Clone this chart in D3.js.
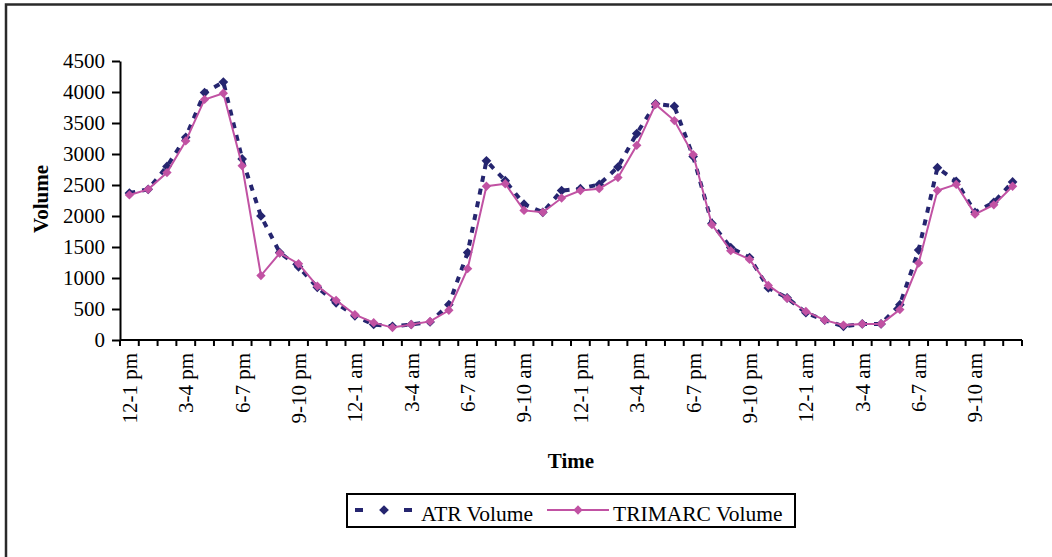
<!DOCTYPE html>
<html>
<head>
<meta charset="utf-8">
<script src="https://cdn.jsdelivr.net/npm/d3@7"></script>
<style>
  body { margin: 0; background: #fff; }
  svg { display: block; font-family: "Liberation Serif", "Times New Roman", serif; }
</style>
</head>
<body>
<script>
// hourly slots, two days starting at noon
const hours = [
  '12-1 pm', '1-2 pm', '2-3 pm', '3-4 pm', '4-5 pm', '5-6 pm',
  '6-7 pm', '7-8 pm', '8-9 pm', '9-10 pm', '10-11 pm', '11-12 pm',
  '12-1 am', '1-2 am', '2-3 am', '3-4 am', '4-5 am', '5-6 am',
  '6-7 am', '7-8 am', '8-9 am', '9-10 am', '10-11 am', '11-12 am'
]
const categories = hours.concat(hours)

const atrVolume = [
  2370, 2430, 2800, 3270, 3990, 4160, 2920, 2000, 1410, 1180, 850, 600,
  390, 250, 220, 250, 290, 570, 1410, 2890, 2570, 2190, 2060, 2410,
  2440, 2510, 2790, 3330, 3810, 3770, 2960, 1880, 1490, 1330, 840, 680,
  440, 320, 220, 260, 260, 570, 1450, 2780, 2560, 2060, 2220, 2550
]
const trimarcVolume = [
  2340, 2430, 2700, 3210, 3880, 3980, 2810, 1040, 1400, 1230, 870, 640,
  410, 280, 200, 250, 300, 480, 1150, 2480, 2520, 2090, 2060, 2290,
  2410, 2440, 2620, 3140, 3800, 3540, 2990, 1860, 1440, 1300, 880, 670,
  460, 320, 240, 260, 260, 490, 1240, 2410, 2510, 2030, 2180, 2480
]
const yTicks = [0, 500, 1000, 1500, 2000, 2500, 3000, 3500, 4000, 4500]
const seriesNames = ['ATR Volume', 'TRIMARC Volume']

const width = 1052
const height = 557
const navy = '#25256f'
const pink = '#c152a3'

const svg = d3.select('body')
  .append('svg')
  .attr('width', width)
  .attr('height', height)

// outer frame (only top and left edges are visible)
svg.append('path')
  .attr('d', 'M6,' + (height + 5) + 'V4.5H' + (width + 5))
  .attr('fill', 'none')
  .attr('stroke', '#2a2a2a')
  .attr('stroke-width', 2.5)

const x = d3.scaleBand()
  .domain(d3.range(categories.length))
  .range([120, 1022])

const y = d3.scaleLinear()
  .domain([0, 4500])
  .range([340, 61])

const cx = i => x(i) + x.bandwidth() / 2

// y axis
const yAxis = svg.append('g')
  .attr('transform', 'translate(120,0)')
  .call(d3.axisLeft(y)
    .tickValues(yTicks)
    .tickFormat(d3.format('d'))
    .tickSize(8)
    .tickPadding(7)
    .tickSizeOuter(0))
yAxis.select('.domain').attr('stroke', '#000').attr('stroke-width', 2)
yAxis.selectAll('.tick line').attr('stroke', '#000').attr('stroke-width', 2)
yAxis.selectAll('.tick text')
  .attr('font-size', 21)
  .attr('font-family', '"Liberation Serif", serif')
  .attr('fill', '#000')

// x axis line and boundary ticks
const xAxis = svg.append('g')
svg.append('line')
  .attr('x1', x.range()[0]).attr('x2', x.range()[1])
  .attr('y1', y(0)).attr('y2', y(0))
  .attr('stroke', '#000').attr('stroke-width', 2)
xAxis.selectAll('line.tick')
  .data(d3.range(categories.length + 1))
  .enter()
  .append('line')
  .attr('class', 'tick')
  .attr('x1', i => x.range()[0] + i * x.step())
  .attr('x2', i => x.range()[0] + i * x.step())
  .attr('y1', y(0))
  .attr('y2', y(0) + 6)
  .attr('stroke', '#000')
  .attr('stroke-width', 2)

xAxis.selectAll('text')
  .data(d3.range(0, categories.length, 3))
  .enter()
  .append('text')
  .attr('transform', i => 'translate(' + cx(i) + ',353) rotate(-90)')
  .attr('dy', '0.35em')
  .attr('text-anchor', 'end')
  .attr('font-size', 21)
  .text(i => categories[i])

// axis titles
svg.append('text')
  .attr('transform', 'translate(41,199) rotate(-90)')
  .attr('dy', '0.35em')
  .attr('text-anchor', 'middle')
  .attr('font-size', 21)
  .attr('font-weight', 'bold')
  .text('Volume')

svg.append('text')
  .attr('x', 571)
  .attr('y', 468)
  .attr('text-anchor', 'middle')
  .attr('font-size', 21)
  .attr('font-weight', 'bold')
  .text('Time')

const line = d3.line()
  .x((d, i) => cx(i))
  .y(d => y(d))

const diamond = d3.symbol().type(d3.symbolDiamond2)

// ATR series: dashed navy
svg.append('path')
  .datum(atrVolume)
  .attr('d', line)
  .attr('fill', 'none')
  .attr('stroke', navy)
  .attr('stroke-width', 4)
  .attr('stroke-dasharray', '6,7')
svg.append('g')
  .selectAll('path')
  .data(atrVolume)
  .enter()
  .append('path')
  .attr('d', diamond.size(60))
  .attr('transform', (d, i) => 'translate(' + cx(i) + ',' + y(d) + ')')
  .attr('fill', navy)

// TRIMARC series: solid pink
svg.append('path')
  .datum(trimarcVolume)
  .attr('d', line)
  .attr('fill', 'none')
  .attr('stroke', pink)
  .attr('stroke-width', 2)
svg.append('g')
  .selectAll('path')
  .data(trimarcVolume)
  .enter()
  .append('path')
  .attr('d', diamond.size(55))
  .attr('transform', (d, i) => 'translate(' + cx(i) + ',' + y(d) + ')')
  .attr('fill', pink)

// legend
const legend = svg.append('g')
legend.append('rect')
  .attr('x', 347).attr('y', 494)
  .attr('width', 448).attr('height', 33)
  .attr('fill', '#fff')
  .attr('stroke', '#000')
  .attr('stroke-width', 2)

legend.append('line')
  .attr('x1', 355).attr('x2', 413)
  .attr('y1', 510).attr('y2', 510)
  .attr('stroke', navy)
  .attr('stroke-width', 4)
  .attr('stroke-dasharray', '8,41')
legend.append('path')
  .attr('d', diamond.size(60))
  .attr('transform', 'translate(384,510)')
  .attr('fill', navy)
legend.append('text')
  .attr('x', 421).attr('y', 521)
  .attr('font-size', 21.5)
  .text(seriesNames[0])

legend.append('line')
  .attr('x1', 547).attr('x2', 609)
  .attr('y1', 510).attr('y2', 510)
  .attr('stroke', pink)
  .attr('stroke-width', 2)
legend.append('path')
  .attr('d', diamond.size(55))
  .attr('transform', 'translate(578,510)')
  .attr('fill', pink)
legend.append('text')
  .attr('x', 613).attr('y', 521)
  .attr('font-size', 21.5)
  .text(seriesNames[1])
</script>
</body>
</html>
